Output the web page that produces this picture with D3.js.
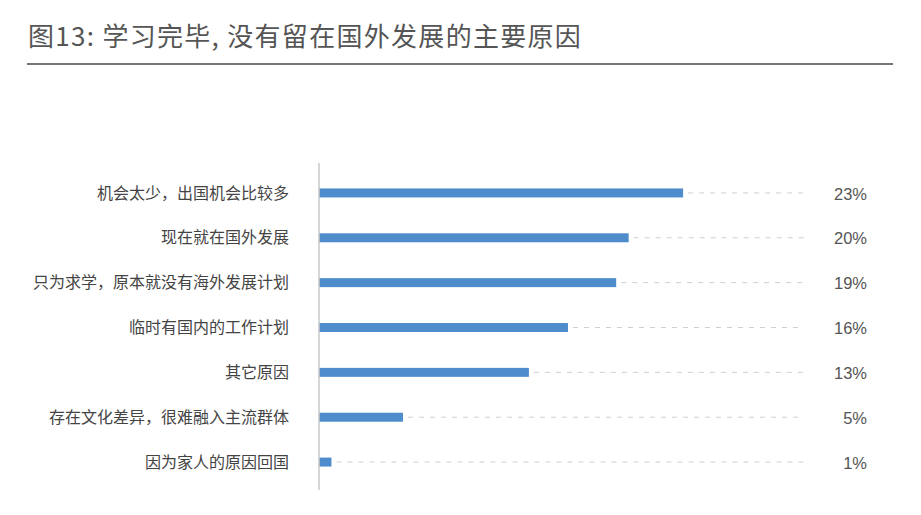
<!DOCTYPE html>
<html>
<head>
<meta charset="utf-8">
<script src="https://cdn.jsdelivr.net/npm/d3@7"></script>
<style>
  body { margin: 0; background: #fff; }
</style>
</head>
<body>
<div id="output"></div>
<script>
const title = "图13: 学习完毕, 没有留在国外发展的主要原因";
const reasons = [
    "机会太少，出国机会比较多",
    "现在就在国外发展",
    "只为求学，原本就没有海外发展计划",
    "临时有国内的工作计划",
    "其它原因",
    "存在文化差异，很难融入主流群体",
    "因为家人的原因回国"
];
const shares = [23.4, 19.9, 19.1, 16.0, 13.49, 5.4, 0.8];

const W = 921, H = 515;
const barColor = "#4f8ccb";
const cjk = "'Noto Sans CJK SC', 'Noto Sans', sans-serif";

const svg = d3.select("#output").append("svg")
    .attr("width", W).attr("height", H);

// title + rule
svg.append("text")
    .attr("x", 28).attr("y", 46)
    .style("font-family", cjk)
    .style("font-size", "26px")
    .style("letter-spacing", "1.3px")
    .style("fill", "#555")
    .text(title);

svg.append("line")
    .attr("x1", 27).attr("x2", 893)
    .attr("y1", 64).attr("y2", 64)
    .style("stroke", "#777")
    .style("stroke-width", 2);

const x = d3.scaleLinear().domain([0, 25]).range([319, 708]);
const y = d3.scaleBand().domain(reasons).range([170.5, 484.5]).paddingInner(0.8).paddingOuter(0.4);
const yc = d => y(d) + y.bandwidth() / 2;
const lineEnd = 804;

const rows = svg.append("g").selectAll("g")
    .data(reasons.map((r, i) => ({ r: r, v: shares[i] })))
    .join("g");

// dashed guides
rows.append("line")
    .attr("x1", d => x(d.v) + 5)
    .attr("x2", lineEnd)
    .attr("y1", d => yc(d.r))
    .attr("y2", d => yc(d.r))
    .style("stroke", "#cfcfcf")
    .style("stroke-width", 1)
    .style("stroke-dasharray", "5,6");

rows.append("rect")
    .attr("x", x(0))
    .attr("y", d => y(d.r))
    .attr("width", d => x(d.v) - x(0))
    .attr("height", y.bandwidth())
    .style("fill", barColor);

// category labels
rows.append("text")
    .attr("x", 289)
    .attr("y", d => yc(d.r))
    .attr("dy", "0.35em")
    .style("font-family", cjk)
    .style("font-size", "16px")
    .style("fill", "#444")
    .style("text-anchor", "end")
    .text(d => d.r);

// value labels
rows.append("text")
    .attr("x", 867)
    .attr("y", d => yc(d.r))
    .attr("dy", "0.4em")
    .style("font-family", "'Liberation Sans', Arial, sans-serif")
    .style("font-size", "16.5px")
    .style("fill", "#555")
    .style("text-anchor", "end")
    .text(d => Math.round(d.v) + "%");

// vertical axis line
svg.append("line")
    .attr("x1", x(0)).attr("x2", x(0))
    .attr("y1", 163).attr("y2", 490)
    .style("stroke", "#c8c8c8")
    .style("stroke-width", 1.5);
</script>
</body>
</html>
